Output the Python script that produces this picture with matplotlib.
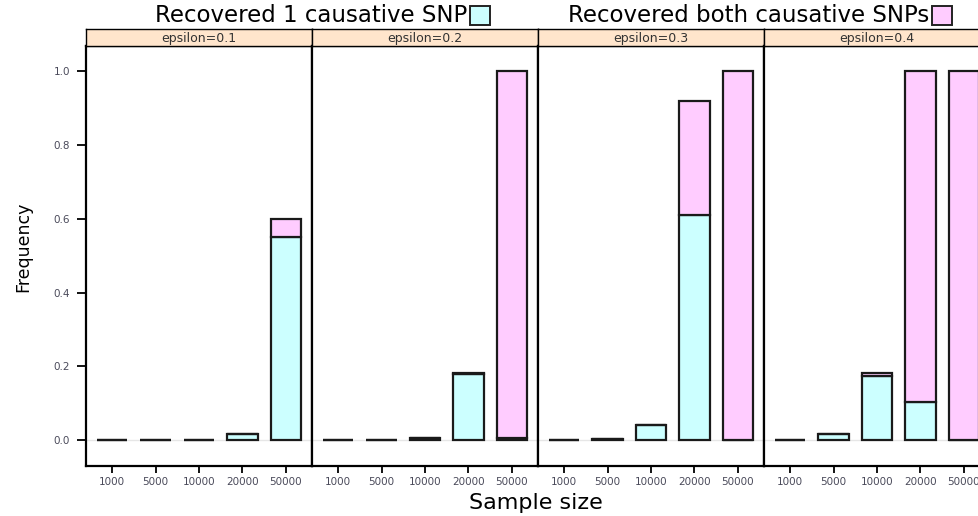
import numpy as np
import matplotlib.pyplot as plt
from matplotlib.patches import Rectangle

sizes = ["1000", "5000", "10000", "20000", "50000"]
epsilons = ["epsilon=0.1", "epsilon=0.2", "epsilon=0.3", "epsilon=0.4"]
# frequency of recovering exactly one causative SNP
one_snp = [
    [0.0, 0.0, 0.0, 0.016, 0.55],
    [0.0, 0.0, 0.006, 0.178, 0.006],
    [0.0, 0.003, 0.04, 0.61, 0.0],
    [0.0, 0.016, 0.175, 0.103, 0.0],
]
# frequency of recovering both causative SNPs
both_snp = [
    [0.0, 0.0, 0.0, 0.0, 0.05],
    [0.0, 0.0, 0.0, 0.005, 0.994],
    [0.0, 0.0, 0.0, 0.31, 1.0],
    [0.0, 0.0, 0.006, 0.897, 1.0],
]

cyan = "#CCFFFF"
pink = "#FFCCFF"
strip_col = "#FFE5CC"
tick_col = "#4a4a5a"

fig = plt.figure(figsize=(9.79, 5.16), dpi=100)
W, H = 979.0, 516.0
left, pw = 86 / W, 226 / W
bot, top, strip_top = (H - 466) / H, (H - 46) / H, (H - 29) / H

x = np.arange(1, 6)
for i in range(4):
    ax = fig.add_axes([left + i * pw, bot, pw, top - bot])
    ax.axhline(0, color="#E6E6E6", lw=1, zorder=0)
    ax.bar(x, one_snp[i], width=0.7, color=cyan, edgecolor="#1a1a1a", lw=1.6, zorder=2)
    ax.bar(x, both_snp[i], bottom=one_snp[i], width=0.7, color=pink,
           edgecolor="#1a1a1a", lw=1.6, zorder=2)
    ax.set_xlim(0.4, 5.6)
    ax.set_ylim(-0.07, 1.068)
    ax.set_xticks(x)
    ax.set_xticklabels(sizes, fontsize=7.5, color=tick_col)
    ax.tick_params(axis="x", length=5, width=1.3, pad=3)
    if i == 0:
        ax.set_yticks(np.arange(0, 1.01, 0.2))
        ax.set_yticklabels(["%.1f" % v for v in np.arange(0, 1.01, 0.2)],
                           fontsize=7.5, color=tick_col)
        ax.tick_params(axis="y", length=6.5, width=1.3, pad=5)
    else:
        ax.set_yticks([])
    for s in ax.spines.values():
        s.set_linewidth(1.6)
    sax = fig.add_axes([left + i * pw, top, pw, strip_top - top])
    sax.set_facecolor(strip_col)
    sax.set_xticks([])
    sax.set_yticks([])
    for s in sax.spines.values():
        s.set_linewidth(1.0)
    sax.text(0.5, 0.45, epsilons[i], ha="center", va="center", fontsize=9,
             color="#333333", transform=sax.transAxes)

fig.text(23 / W, 1 - 247 / H, "Frequency", ha="center", va="center",
         rotation=90, fontsize=12.5)
fig.text(536 / W, 1 - 503 / H, "Sample size", ha="center", va="center", fontsize=16)

# legend on top
fig.text(467 / W, 1 - 15 / H, "Recovered 1 causative SNP", ha="right", va="center", fontsize=16.5)
fig.patches.append(Rectangle((470 / W, 1 - 25 / H), 20 / W, 19 / H, transform=fig.transFigure,
                             facecolor=cyan, edgecolor="#222222", lw=1.4))
fig.text(929 / W, 1 - 15 / H, "Recovered both causative SNPs", ha="right", va="center", fontsize=16.5)
fig.patches.append(Rectangle((932 / W, 1 - 25 / H), 20 / W, 19 / H, transform=fig.transFigure,
                             facecolor=pink, edgecolor="#222222", lw=1.4))

plt.savefig("out.png", dpi=100)
